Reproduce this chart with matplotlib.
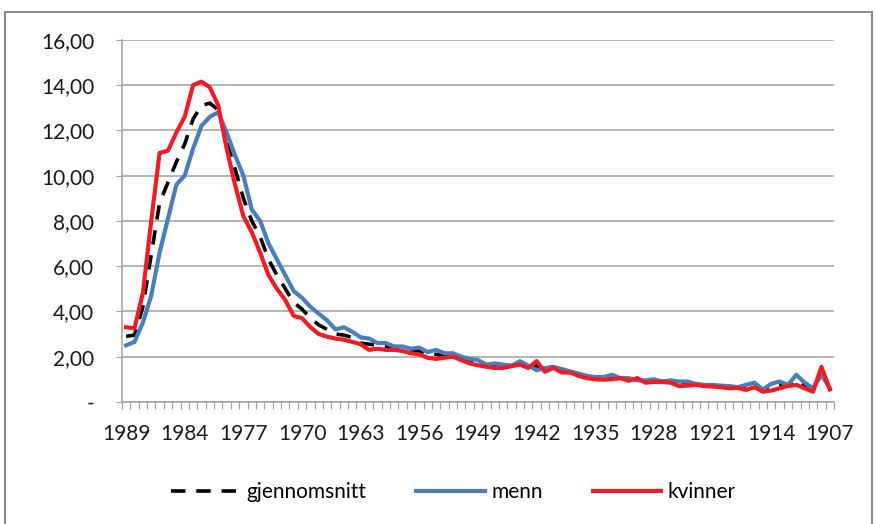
import numpy as np
import matplotlib
matplotlib.use('Agg')
import matplotlib.pyplot as plt
import matplotlib.patches as mpatches

# values (one per year, newest first)
menn = [2.5, 2.65, 3.5, 4.7, 6.6, 8.1, 9.6, 10.0, 11.2, 12.2,
        12.6, 12.8, 11.9, 10.9, 10.0, 8.5, 8.0, 7.0, 6.3, 5.6,
        4.9, 4.6, 4.2, 3.9, 3.6, 3.2, 3.3, 3.1, 2.85, 2.8,
        2.6, 2.6, 2.45, 2.45, 2.35, 2.4, 2.2, 2.3, 2.15, 2.15,
        2.0, 1.9, 1.85, 1.65, 1.7, 1.65, 1.6, 1.8, 1.6, 1.4,
        1.5, 1.55, 1.45, 1.35, 1.25, 1.15, 1.1, 1.1, 1.2, 1.05,
        1.05, 0.95, 0.95, 1.0, 0.9, 0.95, 0.9, 0.9, 0.8, 0.75,
        0.75, 0.72, 0.7, 0.65, 0.75, 0.85, 0.55, 0.8, 0.9, 0.75,
        1.2, 0.85, 0.6, 1.2, 0.6]

kvinner = [3.3, 3.25, 4.8, 8.0, 11.0, 11.1, 11.9, 12.6, 14.0, 14.15,
           13.9, 13.1, 11.2, 9.6, 8.2, 7.5, 6.6, 5.6, 5.0, 4.5,
           3.8, 3.7, 3.3, 3.0, 2.88, 2.8, 2.75, 2.65, 2.55, 2.3,
           2.35, 2.3, 2.3, 2.25, 2.15, 2.1, 1.95, 1.9, 1.95, 2.0,
           1.85, 1.7, 1.62, 1.55, 1.5, 1.5, 1.58, 1.65, 1.5, 1.8,
           1.33, 1.5, 1.3, 1.3, 1.15, 1.05, 1.0, 0.98, 1.0, 1.05,
           0.93, 1.05, 0.85, 0.88, 0.88, 0.85, 0.7, 0.72, 0.75, 0.7,
           0.68, 0.65, 0.6, 0.62, 0.53, 0.65, 0.45, 0.5, 0.6, 0.7,
           0.75, 0.6, 0.45, 1.55, 0.55]

snitt = [2.9, 2.95, 4.2, 6.5, 8.8, 9.7, 10.6, 11.4, 12.5, 13.1,
         13.2, 12.9, 11.5, 10.3, 9.0, 8.0, 7.3, 6.3, 5.6, 5.0,
         4.4, 4.1, 3.7, 3.4, 3.2, 3.0, 2.95, 2.85, 2.6, 2.55,
         2.5, 2.45, 2.4, 2.35, 2.25, 2.25, 2.1, 2.1, 2.05, 2.05,
         1.9, 1.8, 1.7, 1.6, 1.6, 1.55, 1.6, 1.7, 1.55, 1.6,
         1.45, 1.5, 1.4, 1.3, 1.2, 1.1, 1.05, 1.05, 1.1, 1.05,
         1.0, 1.0, 0.9, 0.95, 0.9, 0.9, 0.8, 0.8, 0.78, 0.72,
         0.72, 0.68, 0.65, 0.63, 0.65, 0.75, 0.5, 0.65, 0.75, 0.72,
         0.95, 0.72, 0.52, 1.3, 0.55]

tick_years = ['1989', '1984', '1977', '1970', '1963', '1956', '1949',
              '1942', '1935', '1928', '1921', '1914', '1907']
y_ticks = [0, 2, 4, 6, 8, 10, 12, 14, 16]

plt.rcParams['font.family'] = ['Lato', 'DejaVu Sans']
fs = 15

fig = plt.figure(figsize=(8.77, 5.24), dpi=100)
ax = fig.add_axes([0.139, 0.233, 0.812, 0.691])

# outer chart border
fig.patches.append(mpatches.Rectangle((0.006, -0.05), 0.988, 1.027, transform=fig.transFigure,
                                      fill=False, edgecolor='#8c8c8c', linewidth=1.5))

x = np.arange(len(menn))
ax.plot(x, snitt, color='black', linewidth=2.6, dashes=(4, 3), label='gjennomsnitt', zorder=3)
ax.plot(x, menn, color='#4a7ebb', linewidth=3.0, label='menn', zorder=4)
ax.plot(x, kvinner, color='#ee1c25', linewidth=3.0, label='kvinner', zorder=5)

ax.set_xlim(-0.5, len(menn) - 0.5)
ax.set_ylim(0, 16)

# y axis
ax.set_yticks(y_ticks)
ax.set_yticklabels(['-' if v == 0 else '{0:.2f}'.format(v).replace('.', ',') for v in y_ticks])
ax.yaxis.grid(True, color='#a0a0a0', linewidth=1.1)
ax.tick_params(axis='y', length=4, color='#a0a0a0', labelsize=fs, pad=16, labelcolor='#1a1a1a')

# x axis: tick marks between categories, labels every 7th category
ax.set_xticks(np.arange(-0.5, len(menn), 1.0))
ax.set_xticklabels([])
ax.set_xticks(np.arange(0, len(menn), 7), minor=True)
ax.set_xticklabels(tick_years, minor=True)
ax.tick_params(axis='x', which='major', length=5, color='#a0a0a0', direction='out')
ax.tick_params(axis='x', which='minor', length=0, labelsize=fs, pad=16, labelcolor='#1a1a1a')

for side in ['top', 'right']:
    ax.spines[side].set_visible(False)
for side in ['left', 'bottom']:
    ax.spines[side].set_color('#a0a0a0')
    ax.spines[side].set_linewidth(1.1)
ax.set_axisbelow(True)

fig.legend(loc='center', bbox_to_anchor=(0.517, 0.061), ncol=3, frameon=False, fontsize=fs,
           handlelength=3.3, handletextpad=0.3, columnspacing=2.4)

plt.savefig('out.png', dpi=100)
plt.close()
